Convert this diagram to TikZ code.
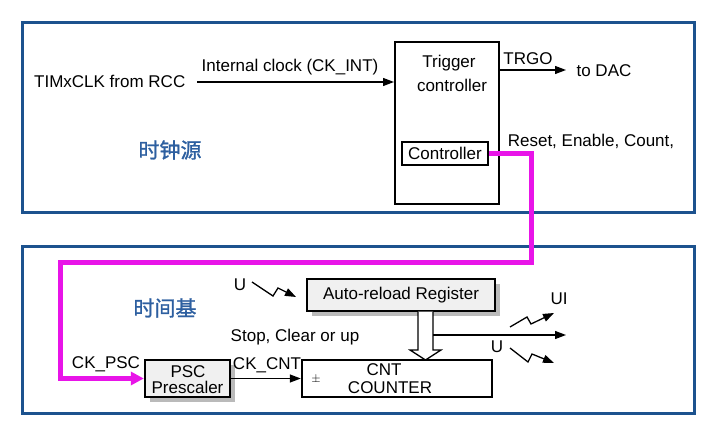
\documentclass[tikz,border=0pt]{standalone}
\usepackage{fontspec}
\setmainfont{Liberation Sans}
\newfontfamily\cjk[AutoFakeBold=1.2]{Noto Sans CJK SC}
\usetikzlibrary{arrows.meta,shadows}
\definecolor{frameblue}{RGB}{28,82,142}
\definecolor{cnblue}{RGB}{45,95,160}
\definecolor{mag}{RGB}{232,20,232}
\definecolor{boxgray}{RGB}{240,240,240}
\begin{document}
\begin{tikzpicture}[x=1pt,y=-1pt,
  font=\fontsize{17}{15}\selectfont,
  txt/.style={inner sep=0pt},
  frame/.style={draw=frameblue,line width=3pt},
  blk/.style={draw=black,line width=2pt,inner sep=0pt,fill=white},
  shbox/.style={draw=black,line width=2.4pt,inner sep=0pt,fill=boxgray,align=center,
     drop shadow={shadow xshift=5pt,shadow yshift=-5pt,fill=black!45,opacity=0.6}},
  arr/.style={draw=black,line width=1.3pt,-{Triangle[length=11pt,width=8pt]}},
  bolt/.style={draw=black,line width=1.3pt,-{Triangle[length=11pt,width=8pt]}},
  pink/.style={draw=mag,line width=5pt,-{Triangle[length=13pt,width=13pt]}},
  cn/.style={txt,text=cnblue,font=\fontsize{21}{21}\cjk\bfseries}]
\useasboundingbox (0,0) rectangle (720,446);
\fill[white] (0,0) rectangle (720,446);
% frames
\draw[frame] (22,23) rectangle (694,213);
\draw[frame] (22,247) rectangle (694,413);
% top area
\node[txt,anchor=west] (tim) at (34,81) {TIMxCLK from RCC};
\node[blk,minimum width=104,minimum height=162] (trig) at (447,123) {};
\node[txt] (trigt) at (449,63) {Trigger};
\node[txt] (trigc) at (452,85) {controller};
\node[blk,line width=2.2pt,minimum width=86,minimum height=23] (ctrl) at (445,153.5) {Controller};
\coordinate (ckin) at (197,82);
\draw[arr] (ckin) -- (ckin -| trig.west);
\node[txt] (cklab) at (290,67) {Internal clock (CK\_INT)};
\coordinate (trgo) at (566,70);
\draw[arr] (trgo -| trig.east) -- (trgo);
\node[txt] (trgolab) at (528,59) {TRGO};
\node[txt] (dac) at (604,71) {to DAC};
\node[txt] (rst) at (591,141) {Reset, Enable, Count,};
\node[cn] (src) at (170,150) {时钟源};
% bottom area
\node[cn] (base) at (165,308) {时间基};
\node[shbox,minimum width=188,minimum height=32] (arr) at (401,295) {Auto-reload Register};
\node[blk,line width=2.4pt,minimum width=190,minimum height=37] (cnt) at (397,378.5) {};
\node[txt] (cntt) at (384,370) {CNT};
\node[txt] (cntc) at (390,388) {COUNTER};
\node[txt,font=\fontsize{13}{13}\selectfont] (pm) at (316,379) {$\pm$};
\node[shbox,minimum width=85,minimum height=37] (psc) at (187.5,378.5) {};
\node[txt] (psct) at (188,371.5) {PSC};
\node[txt] (pscp) at (187.5,387.5) {Prescaler};
\node[txt] (ckpsc) at (106,364) {CK\_PSC};
\node[txt] (ckcnt) at (267,365) {CK\_CNT};
\draw[arr] (psc.east) -- (psc.east -| cnt.west);
\node[txt] (stop) at (295,337) {Stop, Clear or up};
% hollow arrow
\draw[line width=1.3pt,fill=white] (418,311.5) -- (418,350) -- (410,350) -- (425.5,360) -- (441,350) -- (433,350) -- (433,311.5);
% output line
\coordinate (o1) at (433,335);
\coordinate (o2) at (566,335);
\draw[arr] (o1) -- (o2);
% lightning arrows
\node[txt] (u1) at (240,285) {U};
\coordinate (b1a) at (252,282); \coordinate (b1b) at (273,296); \coordinate (b1c) at (278,288); \coordinate (b1d) at (296,297);
\draw[bolt] (b1a) -- (b1b) -- (b1c) -- (b1d);
\node[txt] (ui) at (559,299) {UI};
\coordinate (b2a) at (510,327); \coordinate (b2b) at (527,317); \coordinate (b2c) at (531,324); \coordinate (b2d) at (554,313);
\draw[bolt] (b2a) -- (b2b) -- (b2c) -- (b2d);
\node[txt] (u2) at (497,347) {U};
\coordinate (b3a) at (510,348); \coordinate (b3b) at (528,362); \coordinate (b3c) at (532,354); \coordinate (b3d) at (554,363);
\draw[bolt] (b3a) -- (b3b) -- (b3c) -- (b3d);
% magenta path
\coordinate (m1) at (531,263);
\coordinate (m2) at (60,263);
\draw[pink,line join=miter] (ctrl.east) -| (m1) -- (m2) |- (psc.west);
\end{tikzpicture}
\end{document}
